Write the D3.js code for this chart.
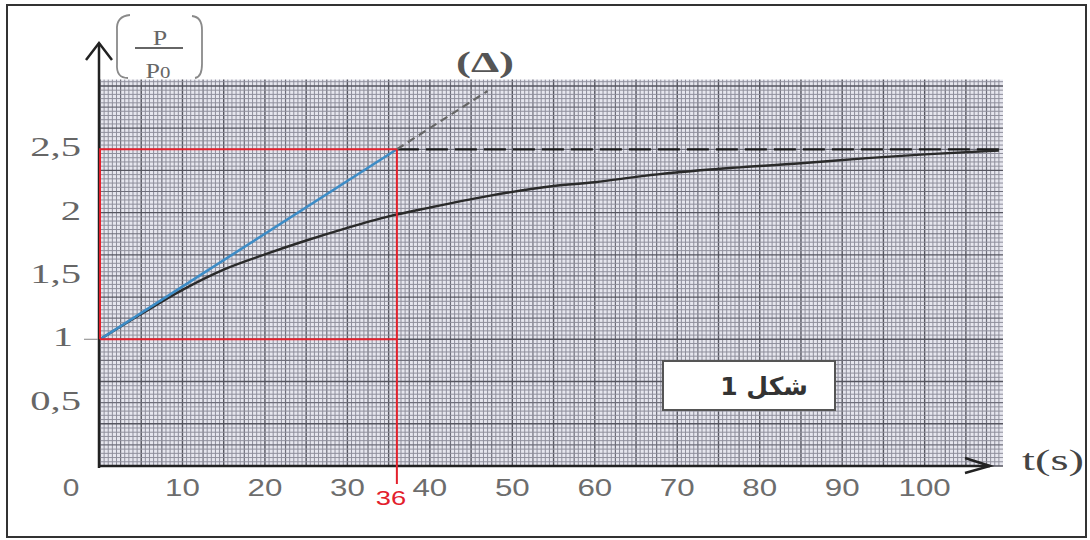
<!doctype html>
<html>
<head>
<meta charset="utf-8"/>
<script src="https://cdnjs.cloudflare.com/ajax/libs/d3/7.8.5/d3.min.js"></script>
<style>
  body { margin: 0; background: #fff; }
  svg { display: block; }
</style>
</head>
<body>
<svg width="1090" height="540"></svg>
<script>
// curve: P/P0 against t(s)
var timeS = [0, 5, 10, 15, 20, 25, 30, 35, 40, 47, 55, 60, 66, 74, 85, 93, 100, 109];
var ratio = [1.00, 1.20, 1.39, 1.55, 1.67, 1.78, 1.88, 1.97, 2.04, 2.13, 2.21, 2.24, 2.29, 2.34, 2.39, 2.43, 2.46, 2.49];

var xTicks = [10, 20, 30, 40, 50, 60, 70, 80, 90, 100];
var yTicks = [0.5, 1, 1.5, 2, 2.5];
var yTickLabels = ["0,5", "1", "1,5", "2", "2,5"];

// tangent at the origin and its dashed continuation (Δ)
var tangentT = [0, 36], tangentV = [1, 2.5];
var deltaT = [36, 47], deltaV = [2.5, 2.96];
var tau = 36, limit = 2.5, start = 1;
var tMax = 109.5, vMax = 3.05;

var svg = d3.select("svg");
var x = d3.scaleLinear().domain([0, tMax]).range([100, 1003]);
var y = d3.scaleLinear().domain([0, vMax]).range([466, 79.6]);

// outer frame
svg.append("rect").attr("x", 7).attr("y", 5).attr("width", 1079).attr("height", 532)
  .attr("fill", "none").attr("stroke", "#333").attr("stroke-width", 2);

// graph paper
var grid = svg.append("g");
grid.append("rect")
  .attr("x", x(0)).attr("y", y(vMax))
  .attr("width", x(tMax) - x(0)).attr("height", y(0) - y(vMax))
  .attr("fill", "#e6e6ee");

function gridStyle(sel, i) {
  if (i % 10 == 0) sel.attr("stroke", "#55555f").attr("stroke-width", 1.4);
  else if (i % 5 == 0) sel.attr("stroke", "#6e6e7a").attr("stroke-width", 1.2);
  else sel.attr("stroke", "#8f8f9c").attr("stroke-width", 1);
}
d3.range(0, tMax / 0.5).forEach(function(i) {
  var px = x(i * 0.5);
  gridStyle(grid.append("line").attr("x1", px).attr("x2", px).attr("y1", y(0)).attr("y2", y(vMax)), i);
});
d3.range(0, vMax * 30).forEach(function(i) {
  var py = y(i / 30);
  gridStyle(grid.append("line").attr("x1", x(0)).attr("x2", x(tMax)).attr("y1", py).attr("y2", py), i);
});

var line = d3.line().x(function(d) { return x(d[0]); }).y(function(d) { return y(d[1]); });

// asymptote
svg.append("path")
  .attr("d", line([[tau, limit], [tMax, limit]]))
  .attr("fill", "none").attr("stroke", "#1a1a1a").attr("stroke-width", 2.2)
  .attr("stroke-dasharray", "22,7");

// (Δ) dashed extension
svg.append("path")
  .attr("d", line(deltaT.map(function(t, i) { return [t, deltaV[i]]; })))
  .attr("fill", "none").attr("stroke", "#666").attr("stroke-width", 2.2)
  .attr("stroke-dasharray", "8,5");

// measured curve
svg.append("path")
  .attr("d", line.curve(d3.curveMonotoneX)(timeS.map(function(t, i) { return [t, ratio[i]]; })))
  .attr("fill", "none").attr("stroke", "#2a2a2a").attr("stroke-width", 2.4);
line.curve(d3.curveLinear);

// axes with arrows
var ax = svg.append("g").attr("stroke", "#222").attr("stroke-width", 2.5).attr("fill", "none");
ax.append("line").attr("x1", x(0) - 1).attr("x2", x(0) - 1).attr("y1", y(0) + 2).attr("y2", 43);
ax.append("path").attr("d", "M" + (x(0) - 14) + ",60L" + (x(0) - 1) + ",43L" + (x(0) + 12) + ",60");
ax.append("line").attr("x1", x(0) - 2).attr("x2", 990).attr("y1", y(0)).attr("y2", y(0));
ax.append("path").attr("d", "M965," + (y(0) - 8) + "L990," + y(0) + "L965," + (y(0) + 7));

// tangent
svg.append("path")
  .attr("d", line(tangentT.map(function(t, i) { return [t, tangentV[i]]; })))
  .attr("fill", "none").attr("stroke", "#3d8cc6").attr("stroke-width", 2.6);

// red construction lines
var red = svg.append("g").attr("stroke", "#e3202c").attr("stroke-width", 2).attr("fill", "none");
red.append("path").attr("d", line([[0, start], [0, limit], [tau, limit]]));
red.append("path").attr("d", line([[0, start], [tau, start]]));
red.append("line").attr("x1", x(tau)).attr("x2", x(tau)).attr("y1", y(limit)).attr("y2", y(0) + 18);

function label(txt, px, py, o) {
  return svg.append("text")
    .attr("transform", "translate(" + px + "," + py + ") scale(" + (o.sx || 1) + ",1)")
    .attr("text-anchor", o.anchor || "middle")
    .style("font-family", o.font)
    .style("font-size", o.size + "px")
    .style("font-weight", o.weight || "normal")
    .attr("fill", o.color)
    .text(txt);
}

var sans = "'Liberation Sans', Arial, sans-serif";
var serif = "'Liberation Serif', 'Times New Roman', serif";

// x tick labels
xTicks.forEach(function(t) {
  label(t, x(t), 496, { font: sans, size: 23, sx: 1.36, color: "#6d6d6d" });
});
label("0", 71, 496, { font: sans, size: 23, sx: 1.3, color: "#6d6d6d" });
label(tau, x(tau) - 6, 505, { font: sans, size: 21, sx: 1.3, color: "#e3202c" });

// y tick labels
yTicks.forEach(function(v, i) {
  label(yTickLabels[i], v === 1 ? 73 : 81, y(v) + 7, { font: serif, size: 28, sx: 1.45, anchor: "end", color: "#666" });
});
svg.append("line").attr("x1", 84).attr("x2", 98).attr("y1", y(1)).attr("y2", y(1))
  .attr("stroke", "#999").attr("stroke-width", 1.2);

// axis titles
label("t(s)", 1053, 470, { font: serif, size: 29, sx: 1.6, color: "#444" });
label("(Δ)", 485, 72, { font: serif, size: 30, sx: 1.5, color: "#555", weight: "bold" });

// P / P0 with its bracket
var br = svg.append("g").attr("stroke", "#8a8a8a").attr("stroke-width", 1.8).attr("fill", "none");
br.append("path").attr("d", "M130,15Q116,16 117,30L117,64Q116,78 128,78");
br.append("path").attr("d", "M192,16Q202,17 202,30L202,64Q202,77 195,78");
br.append("line").attr("x1", 135).attr("x2", 183).attr("y1", 48).attr("y2", 48).attr("stroke", "#666");
label("P", 160, 45, { font: serif, size: 20, sx: 1.3, color: "#666" });
var p0 = label("P", 158, 78, { font: serif, size: 20, sx: 1.3, color: "#666" });
p0.append("tspan").style("font-size", "16px").text("0");

// figure tag
svg.append("rect").attr("x", 663).attr("y", 361).attr("width", 172).attr("height", 49)
  .attr("fill", "#fff").attr("stroke", "#555").attr("stroke-width", 2);
label("شكل 1", 764, 395, { font: "'DejaVu Sans', sans-serif", size: 25, weight: "bold", color: "#333" })
  .attr("direction", "rtl").attr("text-anchor", "middle");
</script>
</body>
</html>
